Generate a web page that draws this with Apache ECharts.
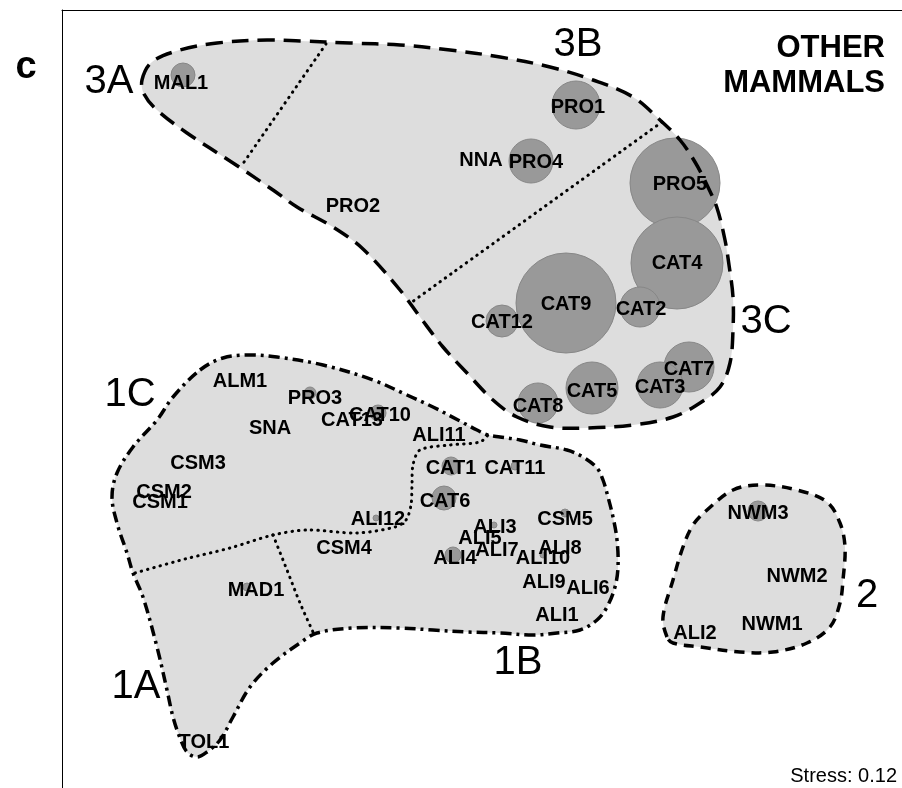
<!DOCTYPE html>
<html><head><meta charset="utf-8">
<script src="https://cdn.jsdelivr.net/npm/echarts@6/dist/echarts.min.js"></script>
<style>html,body{margin:0;padding:0;background:#fff}#c{width:902px;height:788px}</style>
</head><body><div id="c"></div>
<script>
// ---- Site labels (ordination scores, plot units) ----
const siteNames = ['MAL1','PRO1','PRO4','NNA','PRO2','PRO5','CAT4','CAT9','CAT2','CAT12','CAT7','CAT3','CAT5','CAT8',
  'ALM1','PRO3','SNA','CAT13','CAT10','CSM3','CSM2','CSM1','ALI12','CSM4','ALI11','CAT1','CAT11','CAT6',
  'ALI3','CSM5','ALI5','ALI7','ALI4','ALI8','ALI10','ALI9','ALI6','ALI1','NWM3','NWM2','NWM1','ALI2','MAD1','TOL1'];
const siteX = [181,578,536,481,353,680,677,566,641,502,689,660,592,538,
  240,315,270,352,380,198,164,160,378,344,439,451,515,445,
  495,565,480,497,455,560,543,544,588,557,758,797,772,695,256,204];
const siteY = [83,107,162,160,206,184,263,304,309,322,369,387,391,406,
  381,398,428,420,415,463,492,502,519,548,435,468,468,501,
  527,519,538,550,558,548,558,582,588,615,513,576,624,633,590,742];

// ---- Abundance bubbles (centre + radius) ----
const bubbleX = [183,576,531,675,677,566,640,502,689,660,592,538,310,378,376,451,515,444,494,565,453,543,758,247];
const bubbleY = [75,105,161,183,263,303,307,321,367,385,388,403,393,413,518,466,466,498,525,513,555,555,511,587];
const bubbleR = [12,24,22,45,46,50,20,16,25,23,26,20,6,8,3,9,4,12,3,4,8,3,10,4];

// ---- Cluster outlines ----
const region3 = [[142,80],[152,62],[180,50],[217,43],[267,40],[300,41],[350,43],[400,45],[450,50],[500,57],[550,67],[593,80],[633,97],[660,120],[680,140],[695,162],[707,185],[717,208],[725,240],[729,265],[733,297],[733,330],[730,363],[720,387],[700,403],[673,417],[633,425],[587,428],[550,427],[517,417],[493,400],[467,373],[443,347],[420,317],[400,290],[363,249],[333,227],[297,207],[273,190],[233,163],[187,133],[157,110],[144,94]];
const region1 = [[200,370],[223,358],[250,355],[277,357],[323,365],[373,380],[407,395],[433,407],[458,420],[477,430],[488,435],[500,437],[520,440],[540,445],[567,450],[583,457],[597,468],[603,480],[608,497],[613,517],[617,540],[618,567],[615,587],[607,607],[597,620],[580,630],[557,633],[533,635],[500,633],[467,632],[433,630],[400,628],[353,628],[317,633],[300,643],[273,663],[250,687],[233,717],[220,740],[207,752],[197,757],[187,752],[180,738],[173,717],[167,690],[157,647],[143,597],[133,573],[127,553],[117,523],[112,497],[117,473],[133,447],[157,420],[173,397]];
const region2 = [[667,637],[663,617],[673,580],[683,547],[693,525],[707,510],[733,490],[760,485],[797,490],[827,502],[840,523],[845,547],[843,580],[840,603],[830,627],[807,643],[773,652],[740,652],[700,647],[673,643]];
// ---- Sub-cluster dividers ----
const div3AB = [[326,44],[242,165]];
const div3BC = [[662,122],[412,302]];
const div1C = [[135,573],[185,559],[230,548],[273,535],[307,530],[357,533],[395,527],[406,520],[411,505],[412,485],[413,465],[420,450],[450,445],[480,442],[488,435]];
const div1AB = [[273,535],[287,570],[300,603],[313,632]];

// ---- Cluster names ----
const groupNames = ['3A','3B','3C','1C','1A','1B','2'];
const groupX = [109,578,766,130,136,518,867];
const groupY = [82,45,322,395,687,663,596];

const FONT = '"Liberation Sans", Arial, Helvetica, sans-serif';

function shapeSeries(pts, closed, style, z) {
  return {
    type: 'custom', coordinateSystem: 'cartesian2d', clip: false, silent: true, z: z,
    data: [pts[0]],
    renderItem: function (params, api) {
      return {
        type: closed ? 'polygon' : 'polyline',
        shape: { points: pts.map(p => api.coord(p)), smooth: closed ? 0.35 : 0.3 },
        style: style
      };
    }
  };
}
const fillStyle = { fill: '#dddddd', stroke: 'none' };
const dotted = { fill: 'none', stroke: '#000', lineWidth: 3, lineDash: [0.5, 6], lineCap: 'round' };

const chart = echarts.init(document.getElementById('c'), null, { renderer: 'canvas' });
const axisCommon = {
  type: 'value', axisTick: { show: false }, axisLabel: { show: false }, splitLine: { show: false },
  axisLine: { show: true, onZero: false, lineStyle: { color: '#000', width: 1 } }
};
chart.setOption({
  animation: false,
  backgroundColor: '#fff',
  grid: { left: 62, top: 10, right: 0, bottom: 0 },
  xAxis: Object.assign({}, axisCommon, { min: 62, max: 902, position: 'top' }),
  yAxis: Object.assign({}, axisCommon, { min: 10, max: 788, inverse: true }),
  series: [
    shapeSeries(region3, true, fillStyle, 1),
    shapeSeries(region1, true, fillStyle, 1),
    shapeSeries(region2, true, fillStyle, 1),
    shapeSeries(div3AB, false, dotted, 2),
    shapeSeries(div3BC, false, dotted, 2),
    shapeSeries(div1C, false, dotted, 2),
    shapeSeries(div1AB, false, dotted, 2),
    {
      type: 'scatter', z: 3, silent: true,
      data: bubbleX.map((x, i) => [x, bubbleY[i], bubbleR[i]]),
      symbolSize: v => v[2] * 2,
      itemStyle: { color: '#999999', borderColor: '#878787', borderWidth: 1, opacity: 1 }
    },
    {
      type: 'scatter', z: 4, silent: true, symbolSize: 0,
      itemStyle: { opacity: 1 },
      data: siteNames.map((n, i) => ({ name: n, value: [siteX[i], siteY[i]] })),
      label: { show: true, position: 'inside', formatter: '{b}', color: '#000', opacity: 1,
        textBorderWidth: 0, fontFamily: FONT, fontWeight: 'bold', fontSize: 20 }
    },
    {
      type: 'scatter', z: 4, silent: true, symbolSize: 0,
      itemStyle: { opacity: 1 },
      data: groupNames.map((n, i) => ({ name: n, value: [groupX[i], groupY[i]] })),
      label: { show: true, position: 'inside', formatter: '{b}', color: '#000', opacity: 1,
        textBorderWidth: 0, fontFamily: FONT, fontWeight: 'normal', fontSize: 40 }
    },
    shapeSeries(region3, true, { fill: 'none', stroke: '#000', lineWidth: 3.5, lineDash: [17, 9] }, 5),
    shapeSeries(region1, true, { fill: 'none', stroke: '#000', lineWidth: 3.5, lineDash: [11, 5, 3, 5] }, 5),
    shapeSeries(region2, true, { fill: 'none', stroke: '#000', lineWidth: 3.5, lineDash: [10, 7] }, 5)
  ],
  graphic: [
    { type: 'text', z: 10, style: { x: 26, y: 68, text: 'c', align: 'center', verticalAlign: 'middle',
      font: 'bold 38px ' + FONT, fill: '#000' } },
    { type: 'text', z: 10, style: { x: 885, y: 66, text: 'OTHER\nMAMMALS', align: 'right', verticalAlign: 'middle',
      font: 'bold 31px ' + FONT, lineHeight: 35, fill: '#000' } },
    { type: 'text', z: 10, style: { x: 897, y: 776, text: 'Stress: 0.12', align: 'right', verticalAlign: 'middle',
      font: '20px ' + FONT, fill: '#000' } }
  ]
});
</script>
</body></html>
